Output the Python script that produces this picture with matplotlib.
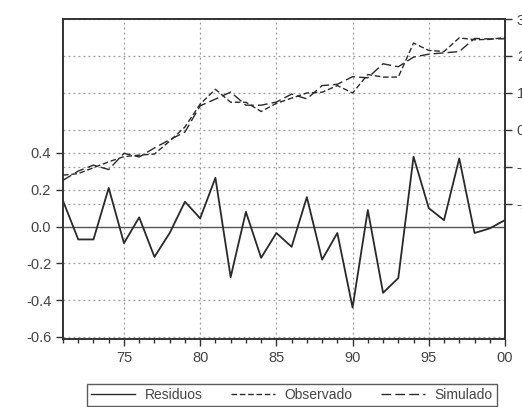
import matplotlib
matplotlib.use("Agg")
import matplotlib.pyplot as plt
from matplotlib.lines import Line2D

plt.rcParams['font.family'] = ['Liberation Sans', 'DejaVu Sans']

years = list(range(1971, 2001))

residuos = [0.14, -0.07, -0.07, 0.21, -0.09, 0.05, -0.165, -0.035, 0.135, 0.045,
            0.265, -0.275, 0.08, -0.17, -0.035, -0.11, 0.16, -0.18, -0.035, -0.44,
            0.09, -0.36, -0.28, 0.38, 0.10, 0.035, 0.37, -0.035, -0.01, 0.035]

observado = [-1.22, -1.18, -1.02, -0.86, -0.72, -0.68, -0.65, -0.30, 0.08, 0.70,
             1.10, 0.75, 0.75, 0.50, 0.72, 0.86, 1.00, 1.02, 1.20, 1.00,
             1.50, 1.43, 1.43, 2.35, 2.15, 2.12, 2.49, 2.44, 2.45, 2.50]

simulado = [-1.36, -1.11, -0.95, -1.07, -0.63, -0.73, -0.485, -0.265, -0.055, 0.655,
            0.835, 1.025, 0.67, 0.67, 0.755, 0.97, 0.84, 1.20, 1.235, 1.44,
            1.41, 1.79, 1.71, 1.97, 2.05, 2.085, 2.12, 2.475, 2.46, 2.465]

left_ticks = [0.4, 0.2, 0.0, -0.2, -0.4, -0.6]
right_ticks = [3, 2, 1, 0, -1, -2]
year_ticks = [1975, 1980, 1985, 1990, 1995, 2000]
year_labels = ['75', '80', '85', '90', '95', '00']

line_col = '#2a2a2a'
grid_col = '#9a9a9a'
text_col = '#444444'

LEFT_LIM = (-0.611, 1.128)
RIGHT_LIM = (-5.65, 3.0)

fig = plt.figure(figsize=(5.22, 4.07), dpi=100)
ax = fig.add_axes([0.1207, 0.1671, 0.8467, 0.7862])
ax2 = ax.twinx()

ax.set_xlim(1971, 2000)
ax.set_ylim(*LEFT_LIM)
ax2.set_ylim(*RIGHT_LIM)


def right_to_left(v):
    frac = (v - RIGHT_LIM[0]) / (RIGHT_LIM[1] - RIGHT_LIM[0])
    return LEFT_LIM[0] + frac * (LEFT_LIM[1] - LEFT_LIM[0])


# grid: horizontal lines from both scales, vertical lines at labelled years
dotted = (0, (1.5, 2.5))
for v in left_ticks:
    if v == 0.0:
        ax.axhline(v, color='#555555', lw=1.0, zorder=1)
    else:
        ax.axhline(v, color=grid_col, lw=0.9, ls=dotted, zorder=1)
for v in right_ticks:
    ax.axhline(right_to_left(v), color=grid_col, lw=0.9, ls=dotted, zorder=1)
for x in year_ticks[:-1]:
    ax.axvline(x, color=grid_col, lw=0.9, ls=dotted, zorder=1)

ax.plot(years, residuos, color=line_col, lw=1.3, zorder=3)
ax2.plot(years, observado, color=line_col, lw=1.0, ls=(0, (4, 2)), zorder=3)
ax2.plot(years, simulado, color=line_col, lw=1.0, ls=(0, (7, 3)), zorder=3)

ax.set_yticks(left_ticks)
ax.set_yticklabels([f'{v:.1f}' for v in left_ticks])
ax2.set_yticks(right_ticks)
ax2.set_yticklabels([str(v) for v in right_ticks])

ax.set_xticks(year_ticks)
ax.set_xticklabels(year_labels)
ax.set_xticks(years, minor=True)

for a in (ax, ax2):
    a.tick_params(axis='both', which='major', direction='out', length=5,
                  width=1, colors='#333333', labelcolor=text_col, labelsize=10.5)
    a.tick_params(axis='x', which='minor', direction='out', length=3,
                  width=1, colors='#333333')
    for s in a.spines.values():
        s.set_color('#333333')
        s.set_linewidth(1.2)

handles = [
    Line2D([], [], color=line_col, lw=1.0),
    Line2D([], [], color=line_col, lw=1.0, ls=(0, (4, 2))),
    Line2D([], [], color=line_col, lw=1.0, ls=(0, (7, 3))),
]
leg = fig.legend(handles, ['Residuos', 'Observado', 'Simulado'], ncol=3,
                 loc='center', bbox_to_anchor=(0.559, 0.029), frameon=True,
                 fancybox=False, edgecolor='#333333', fontsize=10,
                 handlelength=3.2, columnspacing=2.0, borderpad=0.3,
                 handletextpad=0.7, borderaxespad=0.0)
leg.get_frame().set_linewidth(1.0)
for t in leg.get_texts():
    t.set_color(text_col)

fig.savefig('out.png', dpi=100)
